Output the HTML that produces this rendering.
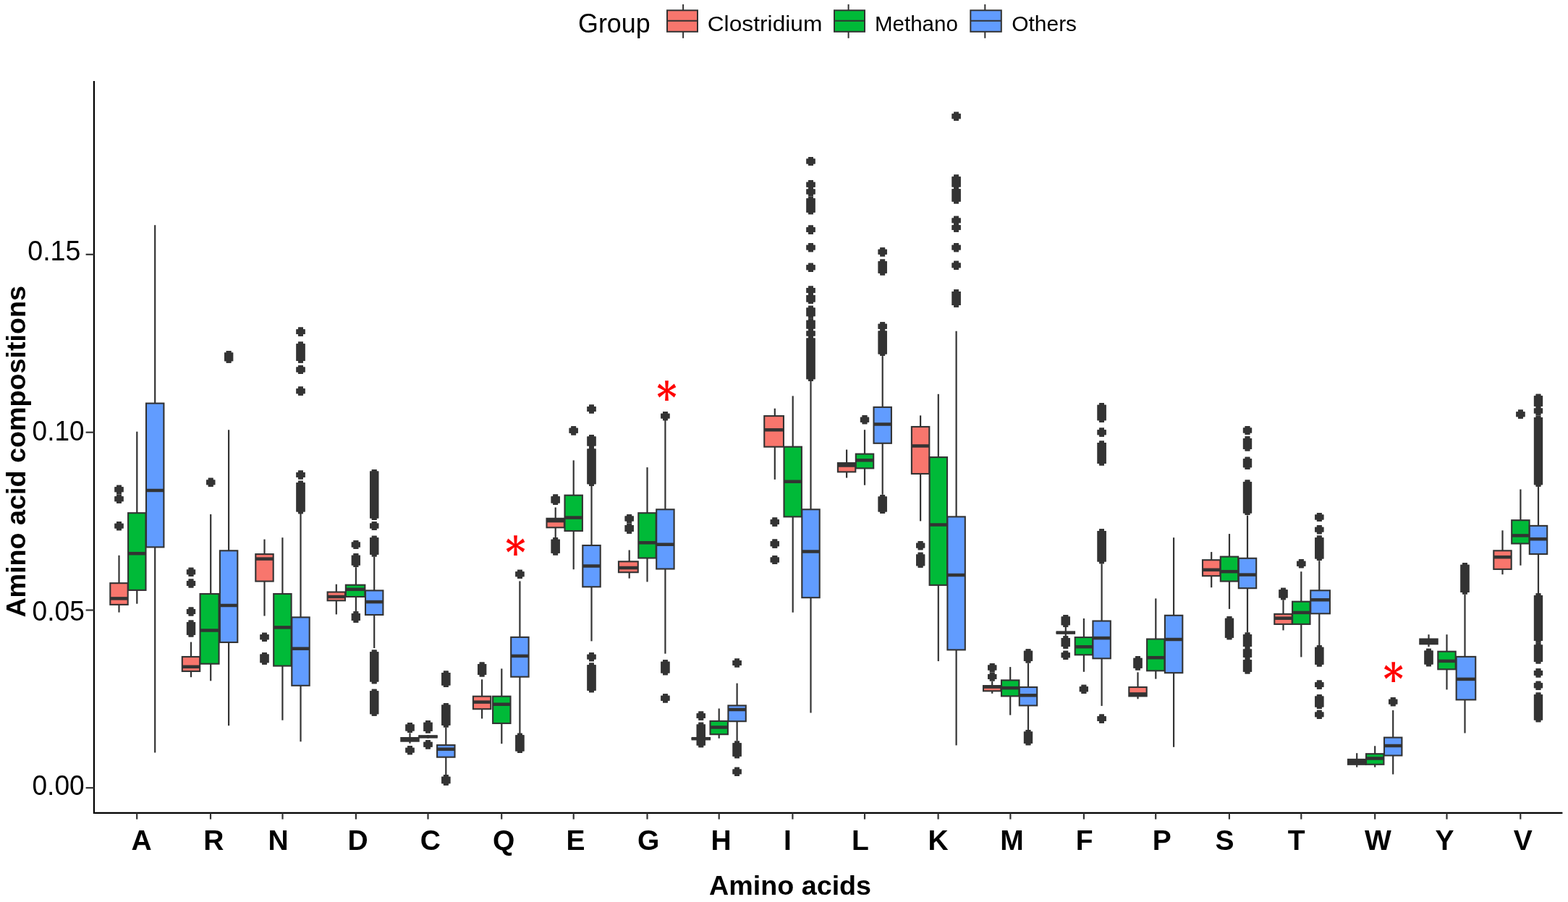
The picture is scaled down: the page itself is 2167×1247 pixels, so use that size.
<!DOCTYPE html>
<html><head><meta charset="utf-8"><title>Amino acid compositions</title>
<style>
html,body{margin:0;padding:0;background:#fff;}
svg{display:block;}
.w{stroke:#333333;stroke-width:2.2;}
.b{stroke:#333333;stroke-width:2.1;}
.m{stroke:#333333;stroke-width:4.5;}
.o{fill:#333333;}
.bl{stroke:#333333;stroke-width:12.4;stroke-linecap:round;}
.t{stroke:#333333;stroke-width:2.2;}
.ax{stroke:#000;stroke-width:2.2;fill:none;}
.xl{font-family:"Liberation Sans",Arial,sans-serif;font-weight:bold;font-size:39px;text-anchor:middle;fill:#000;}
.yl{font-family:"Liberation Sans",Arial,sans-serif;font-size:38.8px;text-anchor:end;fill:#000;}
.ttl{font-family:"Liberation Sans",Arial,sans-serif;font-weight:bold;font-size:37.7px;fill:#000;}
.lg{font-family:"Liberation Sans",Arial,sans-serif;font-size:29.8px;fill:#000;}
.ast{font-family:"DejaVu Serif",serif;font-weight:bold;font-size:60.4px;text-anchor:middle;fill:#FF0000;}
.lk{stroke:#333333;stroke-width:2;}
.lb{stroke:#333333;stroke-width:2;}
</style></head>
<body>
<svg width="2167" height="1247" viewBox="0 0 2167 1247">
<rect width="2167" height="1247" fill="#fff"/>
<g id="legend">
<text x="799" y="45" class="lg" style="font-size:37px" textLength="99.7" lengthAdjust="spacingAndGlyphs">Group</text>
<line x1="944.1" y1="6" x2="944.1" y2="52.8" class="lk"/><rect x="922" y="14.3" width="42" height="29.5" fill="#F8766D" class="lb"/><line x1="922" y1="28.8" x2="964" y2="28.8" class="lk"/><line x1="1172.6" y1="6" x2="1172.6" y2="52.8" class="lk"/><rect x="1153" y="14.3" width="42" height="29.5" fill="#00BA38" class="lb"/><line x1="1153" y1="28.8" x2="1195" y2="28.8" class="lk"/><line x1="1361.3" y1="6" x2="1361.3" y2="52.8" class="lk"/><rect x="1341.3" y="14.3" width="42.5" height="29.5" fill="#619CFF" class="lb"/><line x1="1341.3" y1="28.8" x2="1383.8" y2="28.8" class="lk"/>
<text x="977.7" y="42.7" class="lg" textLength="158.8" lengthAdjust="spacingAndGlyphs">Clostridium</text>
<text x="1209" y="42.6" class="lg" textLength="114.8" lengthAdjust="spacingAndGlyphs">Methano</text>
<text x="1398.2" y="42.5" class="lg" textLength="89.9" lengthAdjust="spacingAndGlyphs">Others</text>
</g>
<g id="plot">
<line x1="164.5" y1="767.8" x2="164.5" y2="806.2" class="w"/>
<line x1="164.5" y1="835.9" x2="164.5" y2="846.6" class="w"/>
<rect x="152.3" y="806.2" width="24.4" height="29.7" fill="#F8766D" class="b"/>
<line x1="152.3" y1="827.4" x2="176.7" y2="827.4" class="m"/>
<line x1="189.3" y1="596.7" x2="189.3" y2="709.2" class="w"/>
<line x1="189.3" y1="815.9" x2="189.3" y2="834.7" class="w"/>
<rect x="177.1" y="709.2" width="24.4" height="106.7" fill="#00BA38" class="b"/>
<line x1="177.1" y1="765.2" x2="201.5" y2="765.2" class="m"/>
<line x1="214.2" y1="311.2" x2="214.2" y2="557.6" class="w"/>
<line x1="214.2" y1="756.4" x2="214.2" y2="1040.5" class="w"/>
<rect x="202" y="557.6" width="24.4" height="198.8" fill="#619CFF" class="b"/>
<line x1="202" y1="678" x2="226.4" y2="678" class="m"/>
<line x1="264" y1="887.6" x2="264" y2="908" class="w"/>
<line x1="264" y1="928" x2="264" y2="936.2" class="w"/>
<rect x="251.8" y="908" width="24.4" height="20" fill="#F8766D" class="b"/>
<line x1="251.8" y1="921.8" x2="276.2" y2="921.8" class="m"/>
<line x1="291.2" y1="711" x2="291.2" y2="821" class="w"/>
<line x1="291.2" y1="917.7" x2="291.2" y2="941.3" class="w"/>
<rect x="276.55" y="821" width="26" height="96.7" fill="#00BA38" class="b"/>
<line x1="276.55" y1="871.5" x2="302.55" y2="871.5" class="m"/>
<line x1="316.1" y1="594.3" x2="316.1" y2="761.3" class="w"/>
<line x1="316.1" y1="888" x2="316.1" y2="1003.2" class="w"/>
<rect x="303.9" y="761.3" width="24.4" height="126.7" fill="#619CFF" class="b"/>
<line x1="303.9" y1="837" x2="328.3" y2="837" class="m"/>
<line x1="365.5" y1="745.6" x2="365.5" y2="766.1" class="w"/>
<line x1="365.5" y1="803.6" x2="365.5" y2="851.5" class="w"/>
<rect x="353.3" y="766.1" width="24.4" height="37.5" fill="#F8766D" class="b"/>
<line x1="353.3" y1="772.6" x2="377.7" y2="772.6" class="m"/>
<line x1="390.4" y1="743.2" x2="390.4" y2="821" class="w"/>
<line x1="390.4" y1="920.6" x2="390.4" y2="995.7" class="w"/>
<rect x="378.2" y="821" width="24.4" height="99.6" fill="#00BA38" class="b"/>
<line x1="378.2" y1="867.4" x2="402.6" y2="867.4" class="m"/>
<line x1="415.5" y1="710" x2="415.5" y2="853.4" class="w"/>
<line x1="415.5" y1="947.8" x2="415.5" y2="1025.3" class="w"/>
<rect x="403.3" y="853.4" width="24.4" height="94.4" fill="#619CFF" class="b"/>
<line x1="403.3" y1="896.7" x2="427.7" y2="896.7" class="m"/>
<line x1="464.8" y1="807.7" x2="464.8" y2="818.5" class="w"/>
<line x1="464.8" y1="830.3" x2="464.8" y2="849.4" class="w"/>
<rect x="452.6" y="818.5" width="24.4" height="11.8" fill="#F8766D" class="b"/>
<line x1="452.6" y1="825" x2="477" y2="825" class="m"/>
<line x1="491.9" y1="784.2" x2="491.9" y2="808.7" class="w"/>
<line x1="491.9" y1="825" x2="491.9" y2="845.2" class="w"/>
<rect x="477.85" y="808.7" width="26.5" height="16.3" fill="#00BA38" class="b"/>
<line x1="477.85" y1="814.8" x2="504.35" y2="814.8" class="m"/>
<line x1="517.2" y1="769.6" x2="517.2" y2="816.4" class="w"/>
<line x1="517.2" y1="850" x2="517.2" y2="896" class="w"/>
<rect x="505" y="816.4" width="24.4" height="33.6" fill="#619CFF" class="b"/>
<line x1="505" y1="832.1" x2="529.4" y2="832.1" class="m"/>
<line x1="566.5" y1="1013.3" x2="566.5" y2="1020.05" class="w"/>
<line x1="566.5" y1="1024.65" x2="566.5" y2="1027.7" class="w"/>
<rect x="554.3" y="1020.05" width="24.4" height="4.6" fill="#F8766D" class="b"/>
<line x1="554.3" y1="1022.3" x2="578.7" y2="1022.3" class="m"/>
<rect x="554.3" y="1022.3" width="24.4" height="2.35" fill="#333333"/>
<line x1="591.5" y1="1016.1" x2="591.5" y2="1018.4" class="w"/>
<line x1="591.5" y1="1018.4" x2="591.5" y2="1020.7" class="w"/>
<rect x="579.3" y="1018.4" width="24.4" height="0.01" fill="#00BA38" class="b"/>
<line x1="578.25" y1="1018.4" x2="604.75" y2="1018.4" class="m"/>
<line x1="616.3" y1="1005.6" x2="616.3" y2="1030.1" class="w"/>
<line x1="616.3" y1="1046.7" x2="616.3" y2="1071" class="w"/>
<rect x="604.1" y="1030.1" width="24.4" height="16.6" fill="#619CFF" class="b"/>
<line x1="604.1" y1="1035.7" x2="628.5" y2="1035.7" class="m"/>
<line x1="666.1" y1="939.3" x2="666.1" y2="962.7" class="w"/>
<line x1="666.1" y1="980.2" x2="666.1" y2="993.5" class="w"/>
<rect x="653.9" y="962.7" width="24.4" height="17.5" fill="#F8766D" class="b"/>
<line x1="653.9" y1="970.6" x2="678.3" y2="970.6" class="m"/>
<line x1="693.3" y1="924.4" x2="693.3" y2="962.7" class="w"/>
<line x1="693.3" y1="1000" x2="693.3" y2="1028.2" class="w"/>
<rect x="681.1" y="962.7" width="24.4" height="37.3" fill="#00BA38" class="b"/>
<line x1="681.1" y1="973.7" x2="705.5" y2="973.7" class="m"/>
<line x1="718.4" y1="803.4" x2="718.4" y2="880.9" class="w"/>
<line x1="718.4" y1="935.7" x2="718.4" y2="1014" class="w"/>
<rect x="706.2" y="880.9" width="24.4" height="54.8" fill="#619CFF" class="b"/>
<line x1="706.2" y1="906.9" x2="730.6" y2="906.9" class="m"/>
<line x1="767.7" y1="701.5" x2="767.7" y2="716.8" class="w"/>
<line x1="767.7" y1="729.3" x2="767.7" y2="743" class="w"/>
<rect x="755.5" y="716.8" width="24.4" height="12.5" fill="#F8766D" class="b"/>
<line x1="755.5" y1="720.1" x2="779.9" y2="720.1" class="m"/>
<rect x="755.5" y="716.8" width="24.4" height="3.3" fill="#333333"/>
<line x1="792.7" y1="636.4" x2="792.7" y2="684.7" class="w"/>
<line x1="792.7" y1="734" x2="792.7" y2="787.2" class="w"/>
<rect x="780.5" y="684.7" width="24.4" height="49.3" fill="#00BA38" class="b"/>
<line x1="780.5" y1="715.6" x2="804.9" y2="715.6" class="m"/>
<line x1="817.5" y1="671.8" x2="817.5" y2="754" class="w"/>
<line x1="817.5" y1="811.3" x2="817.5" y2="886.4" class="w"/>
<rect x="805.3" y="754" width="24.4" height="57.3" fill="#619CFF" class="b"/>
<line x1="805.3" y1="782.5" x2="829.7" y2="782.5" class="m"/>
<line x1="869.7" y1="760.5" x2="869.7" y2="776.3" class="w"/>
<line x1="869.7" y1="791.2" x2="869.7" y2="799.6" class="w"/>
<rect x="854.95" y="776.3" width="26.8" height="14.9" fill="#F8766D" class="b"/>
<line x1="854.95" y1="785" x2="881.75" y2="785" class="m"/>
<line x1="894.5" y1="646.1" x2="894.5" y2="709.2" class="w"/>
<line x1="894.5" y1="771.5" x2="894.5" y2="804.4" class="w"/>
<rect x="882.3" y="709.2" width="24.4" height="62.3" fill="#00BA38" class="b"/>
<line x1="882.3" y1="750.3" x2="906.7" y2="750.3" class="m"/>
<line x1="919.4" y1="580.4" x2="919.4" y2="704.3" class="w"/>
<line x1="919.4" y1="786.5" x2="919.4" y2="903.7" class="w"/>
<rect x="907.2" y="704.3" width="24.4" height="82.2" fill="#619CFF" class="b"/>
<line x1="907.2" y1="752.7" x2="931.6" y2="752.7" class="m"/>
<line x1="968.8" y1="1021.2" x2="968.8" y2="1021.2" class="w"/>
<line x1="968.8" y1="1021.2" x2="968.8" y2="1021.2" class="w"/>
<rect x="956.6" y="1021.2" width="24.4" height="0.01" fill="#F8766D" class="b"/>
<line x1="955.55" y1="1021.2" x2="982.05" y2="1021.2" class="m"/>
<line x1="993.7" y1="979.5" x2="993.7" y2="996.9" class="w"/>
<line x1="993.7" y1="1015.2" x2="993.7" y2="1020.8" class="w"/>
<rect x="981.5" y="996.9" width="24.4" height="18.3" fill="#00BA38" class="b"/>
<line x1="981.5" y1="1005.5" x2="1005.9" y2="1005.5" class="m"/>
<line x1="1018.6" y1="944.6" x2="1018.6" y2="975.4" class="w"/>
<line x1="1018.6" y1="997.2" x2="1018.6" y2="1024.4" class="w"/>
<rect x="1006.4" y="975.4" width="24.4" height="21.8" fill="#619CFF" class="b"/>
<line x1="1006.4" y1="981" x2="1030.8" y2="981" class="m"/>
<line x1="1070.8" y1="564.7" x2="1070.8" y2="575.1" class="w"/>
<line x1="1070.8" y1="617.7" x2="1070.8" y2="662.9" class="w"/>
<rect x="1056.25" y="575.1" width="26.7" height="42.6" fill="#F8766D" class="b"/>
<line x1="1056.25" y1="594.3" x2="1082.95" y2="594.3" class="m"/>
<line x1="1095.7" y1="547.4" x2="1095.7" y2="617.7" class="w"/>
<line x1="1095.7" y1="714.4" x2="1095.7" y2="846.7" class="w"/>
<rect x="1083.5" y="617.7" width="24.4" height="96.7" fill="#00BA38" class="b"/>
<line x1="1083.5" y1="665.8" x2="1107.9" y2="665.8" class="m"/>
<line x1="1120.5" y1="526.2" x2="1120.5" y2="704.3" class="w"/>
<line x1="1120.5" y1="826.2" x2="1120.5" y2="985.5" class="w"/>
<rect x="1108.3" y="704.3" width="24.4" height="121.9" fill="#619CFF" class="b"/>
<line x1="1108.3" y1="762.5" x2="1132.7" y2="762.5" class="m"/>
<line x1="1170.1" y1="621.6" x2="1170.1" y2="640.1" class="w"/>
<line x1="1170.1" y1="652.4" x2="1170.1" y2="660.6" class="w"/>
<rect x="1157.9" y="640.1" width="24.4" height="12.3" fill="#F8766D" class="b"/>
<line x1="1157.9" y1="643.5" x2="1182.3" y2="643.5" class="m"/>
<rect x="1157.9" y="640.1" width="24.4" height="3.4" fill="#333333"/>
<line x1="1195" y1="594.2" x2="1195" y2="627.6" class="w"/>
<line x1="1195" y1="647.4" x2="1195" y2="670.7" class="w"/>
<rect x="1182.8" y="627.6" width="24.4" height="19.8" fill="#00BA38" class="b"/>
<line x1="1182.8" y1="636.3" x2="1207.2" y2="636.3" class="m"/>
<line x1="1219.7" y1="492.1" x2="1219.7" y2="562.9" class="w"/>
<line x1="1219.7" y1="612.8" x2="1219.7" y2="683.8" class="w"/>
<rect x="1207.5" y="562.9" width="24.4" height="49.9" fill="#619CFF" class="b"/>
<line x1="1207.5" y1="586.5" x2="1231.9" y2="586.5" class="m"/>
<line x1="1272.1" y1="574.4" x2="1272.1" y2="590" class="w"/>
<line x1="1272.1" y1="655" x2="1272.1" y2="720.4" class="w"/>
<rect x="1259.9" y="590" width="24.4" height="65" fill="#F8766D" class="b"/>
<line x1="1259.9" y1="616.5" x2="1284.3" y2="616.5" class="m"/>
<line x1="1296.8" y1="544.8" x2="1296.8" y2="632.1" class="w"/>
<line x1="1296.8" y1="808.9" x2="1296.8" y2="914.1" class="w"/>
<rect x="1284.6" y="632.1" width="24.4" height="176.8" fill="#00BA38" class="b"/>
<line x1="1284.6" y1="725.5" x2="1309" y2="725.5" class="m"/>
<line x1="1321.6" y1="457.7" x2="1321.6" y2="714.4" class="w"/>
<line x1="1321.6" y1="898.4" x2="1321.6" y2="1030.4" class="w"/>
<rect x="1309.4" y="714.4" width="24.4" height="184" fill="#619CFF" class="b"/>
<line x1="1309.4" y1="795" x2="1333.8" y2="795" class="m"/>
<line x1="1371.2" y1="942" x2="1371.2" y2="948.1" class="w"/>
<line x1="1371.2" y1="955.3" x2="1371.2" y2="958.8" class="w"/>
<rect x="1359" y="948.1" width="24.4" height="7.2" fill="#F8766D" class="b"/>
<line x1="1359" y1="949.6" x2="1383.4" y2="949.6" class="m"/>
<line x1="1396.2" y1="922.1" x2="1396.2" y2="940.4" class="w"/>
<line x1="1396.2" y1="962.4" x2="1396.2" y2="988.6" class="w"/>
<rect x="1384" y="940.4" width="24.4" height="22" fill="#00BA38" class="b"/>
<line x1="1384" y1="951.1" x2="1408.4" y2="951.1" class="m"/>
<line x1="1421" y1="916.7" x2="1421" y2="950" class="w"/>
<line x1="1421" y1="975.4" x2="1421" y2="1009.1" class="w"/>
<rect x="1408.8" y="950" width="24.4" height="25.4" fill="#619CFF" class="b"/>
<line x1="1408.8" y1="961.3" x2="1433.2" y2="961.3" class="m"/>
<line x1="1472.8" y1="867" x2="1472.8" y2="874.6" class="w"/>
<line x1="1472.8" y1="874.6" x2="1472.8" y2="879" class="w"/>
<rect x="1460.6" y="874.6" width="24.4" height="0.01" fill="#F8766D" class="b"/>
<line x1="1459.55" y1="874.6" x2="1486.05" y2="874.6" class="m"/>
<line x1="1497.9" y1="855" x2="1497.9" y2="881.1" class="w"/>
<line x1="1497.9" y1="905.3" x2="1497.9" y2="928.8" class="w"/>
<rect x="1485.7" y="881.1" width="24.4" height="24.2" fill="#00BA38" class="b"/>
<line x1="1485.7" y1="894.2" x2="1510.1" y2="894.2" class="m"/>
<line x1="1522.6" y1="779.3" x2="1522.6" y2="858.5" class="w"/>
<line x1="1522.6" y1="910.3" x2="1522.6" y2="975.9" class="w"/>
<rect x="1510.4" y="858.5" width="24.4" height="51.8" fill="#619CFF" class="b"/>
<line x1="1510.4" y1="882.1" x2="1534.8" y2="882.1" class="m"/>
<line x1="1572.5" y1="929.4" x2="1572.5" y2="950" class="w"/>
<line x1="1572.5" y1="962.4" x2="1572.5" y2="966.3" class="w"/>
<rect x="1560.3" y="950" width="24.4" height="12.4" fill="#F8766D" class="b"/>
<line x1="1560.3" y1="959.4" x2="1584.7" y2="959.4" class="m"/>
<rect x="1560.3" y="959.4" width="24.4" height="3" fill="#333333"/>
<line x1="1597.3" y1="827.4" x2="1597.3" y2="883.5" class="w"/>
<line x1="1597.3" y1="927.3" x2="1597.3" y2="938.6" class="w"/>
<rect x="1585.1" y="883.5" width="24.4" height="43.8" fill="#00BA38" class="b"/>
<line x1="1585.1" y1="909.2" x2="1609.5" y2="909.2" class="m"/>
<line x1="1622.1" y1="743.2" x2="1622.1" y2="850.8" class="w"/>
<line x1="1622.1" y1="930.2" x2="1622.1" y2="1032.8" class="w"/>
<rect x="1609.9" y="850.8" width="24.4" height="79.4" fill="#619CFF" class="b"/>
<line x1="1609.9" y1="884" x2="1634.3" y2="884" class="m"/>
<line x1="1674.2" y1="763.1" x2="1674.2" y2="774.2" class="w"/>
<line x1="1674.2" y1="796.2" x2="1674.2" y2="812.2" class="w"/>
<rect x="1662" y="774.2" width="24.4" height="22" fill="#F8766D" class="b"/>
<line x1="1662" y1="787.8" x2="1686.4" y2="787.8" class="m"/>
<line x1="1699" y1="738.1" x2="1699" y2="769.6" class="w"/>
<line x1="1699" y1="803.6" x2="1699" y2="841.9" class="w"/>
<rect x="1686.8" y="769.6" width="24.4" height="34" fill="#00BA38" class="b"/>
<line x1="1686.8" y1="790.2" x2="1711.2" y2="790.2" class="m"/>
<line x1="1724" y1="712.5" x2="1724" y2="771.8" class="w"/>
<line x1="1724" y1="813.2" x2="1724" y2="874.4" class="w"/>
<rect x="1711.8" y="771.8" width="24.4" height="41.4" fill="#619CFF" class="b"/>
<line x1="1711.8" y1="794.6" x2="1736.2" y2="794.6" class="m"/>
<line x1="1773.5" y1="829.3" x2="1773.5" y2="848.9" class="w"/>
<line x1="1773.5" y1="862.9" x2="1773.5" y2="871.4" class="w"/>
<rect x="1761.3" y="848.9" width="24.4" height="14" fill="#F8766D" class="b"/>
<line x1="1761.3" y1="854.7" x2="1785.7" y2="854.7" class="m"/>
<line x1="1798.3" y1="790.2" x2="1798.3" y2="831.7" class="w"/>
<line x1="1798.3" y1="862.9" x2="1798.3" y2="908.4" class="w"/>
<rect x="1786.1" y="831.7" width="24.4" height="31.2" fill="#00BA38" class="b"/>
<line x1="1786.1" y1="846.9" x2="1810.5" y2="846.9" class="m"/>
<line x1="1823.3" y1="775.2" x2="1823.3" y2="816.3" class="w"/>
<line x1="1823.3" y1="848.3" x2="1823.3" y2="892" class="w"/>
<rect x="1811.25" y="816.3" width="26.7" height="32" fill="#619CFF" class="b"/>
<line x1="1811.25" y1="829.3" x2="1837.95" y2="829.3" class="m"/>
<line x1="1875.2" y1="1041.2" x2="1875.2" y2="1049.9" class="w"/>
<line x1="1875.2" y1="1056.8" x2="1875.2" y2="1060.6" class="w"/>
<rect x="1863" y="1049.9" width="24.4" height="6.9" fill="#F8766D" class="b"/>
<line x1="1863" y1="1053.35" x2="1887.4" y2="1053.35" class="m"/>
<rect x="1863" y="1049.9" width="24.4" height="3.45" fill="#333333"/>
<rect x="1863" y="1053.35" width="24.4" height="3.45" fill="#333333"/>
<line x1="1900.2" y1="1031.3" x2="1900.2" y2="1042.2" class="w"/>
<line x1="1900.2" y1="1056.8" x2="1900.2" y2="1060.6" class="w"/>
<rect x="1888" y="1042.2" width="24.4" height="14.6" fill="#00BA38" class="b"/>
<line x1="1888" y1="1048.5" x2="1912.4" y2="1048.5" class="m"/>
<line x1="1925.2" y1="981.9" x2="1925.2" y2="1019.6" class="w"/>
<line x1="1925.2" y1="1044.5" x2="1925.2" y2="1070.5" class="w"/>
<rect x="1913" y="1019.6" width="24.4" height="24.9" fill="#619CFF" class="b"/>
<line x1="1913" y1="1031" x2="1937.4" y2="1031" class="m"/>
<line x1="1974.5" y1="877.2" x2="1974.5" y2="883.5" class="w"/>
<line x1="1974.5" y1="890.3" x2="1974.5" y2="894.2" class="w"/>
<rect x="1962.3" y="883.5" width="24.4" height="6.8" fill="#F8766D" class="b"/>
<line x1="1962.3" y1="887" x2="1986.7" y2="887" class="m"/>
<rect x="1962.3" y="883.5" width="24.4" height="3.5" fill="#333333"/>
<rect x="1962.3" y="887" width="24.4" height="3.3" fill="#333333"/>
<line x1="1999.5" y1="877.2" x2="1999.5" y2="900.7" class="w"/>
<line x1="1999.5" y1="925.3" x2="1999.5" y2="953.4" class="w"/>
<rect x="1987.3" y="900.7" width="24.4" height="24.6" fill="#00BA38" class="b"/>
<line x1="1987.3" y1="913.9" x2="2011.7" y2="913.9" class="m"/>
<line x1="2024.5" y1="821.7" x2="2024.5" y2="907.9" class="w"/>
<line x1="2024.5" y1="967.4" x2="2024.5" y2="1013.5" class="w"/>
<rect x="2012.65" y="907.9" width="26.6" height="59.5" fill="#619CFF" class="b"/>
<line x1="2012.65" y1="938.9" x2="2039.25" y2="938.9" class="m"/>
<line x1="2076.5" y1="733.3" x2="2076.5" y2="761.3" class="w"/>
<line x1="2076.5" y1="786.9" x2="2076.5" y2="794.2" class="w"/>
<rect x="2064.3" y="761.3" width="24.4" height="25.6" fill="#F8766D" class="b"/>
<line x1="2064.3" y1="770.2" x2="2088.7" y2="770.2" class="m"/>
<line x1="2101.4" y1="676.5" x2="2101.4" y2="719.2" class="w"/>
<line x1="2101.4" y1="751.5" x2="2101.4" y2="781.7" class="w"/>
<rect x="2089.2" y="719.2" width="24.4" height="32.3" fill="#00BA38" class="b"/>
<line x1="2089.2" y1="740.4" x2="2113.6" y2="740.4" class="m"/>
<line x1="2126" y1="672.9" x2="2126" y2="726.9" class="w"/>
<line x1="2126" y1="766" x2="2126" y2="821.4" class="w"/>
<rect x="2113.8" y="726.9" width="24.4" height="39.1" fill="#619CFF" class="b"/>
<line x1="2113.8" y1="745.2" x2="2138.2" y2="745.2" class="m"/>
<path class="o" d="M158.4 673.35H170.6V680.25H158.4ZM161.1 670.7H167.9V682.9H161.1ZM158.4 686.25H170.6V693.15H158.4ZM161.1 683.6H167.9V695.8H161.1ZM158.4 723.65H170.6V730.55H158.4ZM161.1 721H167.9V733.2H161.1ZM257.9 787.45H270.1V794.35H257.9ZM260.6 784.8H267.4V797H260.6ZM257.9 803.05H270.1V809.95H257.9ZM260.6 800.4H267.4V812.6H260.6ZM257.9 842.05H270.1V848.95H257.9ZM260.6 839.4H267.4V851.6H260.6ZM257.9 860.05H270.1V877.85H257.9ZM260.6 857.4H267.4V880.5H260.6ZM285.1 663.45H297.3V670.35H285.1ZM287.8 660.8H294.6V673H287.8ZM310 487.55H322.2V499.15H310ZM312.7 484.9H319.5V501.8H312.7ZM359.4 877.35H371.6V884.25H359.4ZM362.1 874.7H368.9V886.9H362.1ZM359.4 904.55H371.6V916.15H359.4ZM362.1 901.9H368.9V918.8H362.1ZM409.4 455.15H421.6V462.05H409.4ZM412.1 452.5H418.9V464.7H412.1ZM409.4 507.55H421.6V514.45H409.4ZM412.1 504.9H418.9V517.1H412.1ZM409.4 537.25H421.6V544.15H409.4ZM412.1 534.6H418.9V546.8H412.1ZM409.4 653.05H421.6V659.95H409.4ZM412.1 650.4H418.9V662.6H412.1ZM409.4 475.25H421.6V499.05H409.4ZM412.1 472.6H418.9V501.7H412.1ZM409.4 667.35H421.6V707.55H409.4ZM412.1 664.7H418.9V710.2H412.1ZM485.8 749.55H498V756.45H485.8ZM488.5 746.9H495.3V759.1H488.5ZM485.8 767.75H498V781.45H485.8ZM488.5 765.1H495.3V784.1H488.5ZM485.8 847.95H498V858.05H485.8ZM488.5 845.3H495.3V860.7H488.5ZM511.1 723.55H523.3V730.45H511.1ZM513.8 720.9H520.6V733.1H513.8ZM511.1 651.55H523.3V716.45H511.1ZM513.8 648.9H520.6V719.1H513.8ZM511.1 743.35H523.3V766.85H511.1ZM513.8 740.7H520.6V769.5H513.8ZM511.1 901.15H523.3V942.55H511.1ZM513.8 898.5H520.6V945.2H513.8ZM511.1 955.35H523.3V987.15H511.1ZM513.8 952.7H520.6V989.8H513.8ZM560.4 1001.55H572.6V1008.45H560.4ZM563.1 998.9H569.9V1011.1H563.1ZM560.4 1003.55H572.6V1010.45H560.4ZM563.1 1000.9H569.9V1013.1H563.1ZM560.4 1033.65H572.6V1040.55H560.4ZM563.1 1031H569.9V1043.2H563.1ZM585.4 1025.85H597.6V1032.75H585.4ZM588.1 1023.2H594.9V1035.4H588.1ZM585.4 998.75H597.6V1010.95H585.4ZM588.1 996.1H594.9V1013.6H588.1ZM610.2 930.05H622.4V947.45H610.2ZM612.9 927.4H619.7V950.1H612.9ZM610.2 974.55H622.4V1002.85H610.2ZM612.9 971.9H619.7V1005.5H612.9ZM610.2 1073.65H622.4V1083.15H610.2ZM612.9 1071H619.7V1085.8H612.9ZM660 918.05H672.2V932.95H660ZM662.7 915.4H669.5V935.6H662.7ZM712.3 790.35H724.5V797.25H712.3ZM715 787.7H721.8V799.9H715ZM712.3 1016.35H724.5V1038.45H712.3ZM715 1013.7H721.8V1041.1H715ZM761.6 686.25H773.8V695.45H761.6ZM764.3 683.6H771.1V698.1H764.3ZM761.6 745.75H773.8V764.85H761.6ZM764.3 743.1H771.1V767.5H764.3ZM786.6 591.85H798.8V598.75H786.6ZM789.3 589.2H796.1V601.4H789.3ZM811.4 562.05H823.6V568.95H811.4ZM814.1 559.4H820.9V571.6H814.1ZM811.4 904.65H823.6V911.55H811.4ZM814.1 902H820.9V914.2H814.1ZM811.4 603.55H823.6V616.45H811.4ZM814.1 600.9H820.9V619.1H814.1ZM811.4 620.55H823.6V669.25H811.4ZM814.1 617.9H820.9V671.9H814.1ZM811.4 919.25H823.6V954.65H811.4ZM814.1 916.6H820.9V957.3H814.1ZM863.6 713.55H875.8V720.45H863.6ZM866.3 710.9H873.1V723.1H866.3ZM863.6 726.05H875.8V735.05H863.6ZM866.3 723.4H873.1V737.7H866.3ZM913.3 571.65H925.5V578.55H913.3ZM916 569H922.8V581.2H916ZM913.3 961.85H925.5V968.75H913.3ZM916 959.2H922.8V971.4H916ZM913.3 914.85H925.5V930.55H913.3ZM916 912.2H922.8V933.2H916ZM962.7 986.15H974.9V993.05H962.7ZM965.4 983.5H972.2V995.7H965.4ZM962.7 1001.45H974.9V1030.55H962.7ZM965.4 998.8H972.2V1033.2H965.4ZM1012.5 913.05H1024.7V919.95H1012.5ZM1015.2 910.4H1022V922.6H1015.2ZM1012.5 1063.45H1024.7V1070.35H1012.5ZM1015.2 1060.8H1022V1073H1015.2ZM1012.5 1027.15H1024.7V1045.65H1012.5ZM1015.2 1024.5H1022V1048.3H1015.2ZM1064.7 718.15H1076.9V725.05H1064.7ZM1067.4 715.5H1074.2V727.7H1067.4ZM1064.7 748.25H1076.9V755.15H1064.7ZM1067.4 745.6H1074.2V757.8H1067.4ZM1064.7 770.55H1076.9V777.45H1064.7ZM1067.4 767.9H1074.2V780.1H1067.4ZM1114.4 219.55H1126.6V226.45H1114.4ZM1117.1 216.9H1123.9V229.1H1117.1ZM1114.4 314.15H1126.6V321.05H1114.4ZM1117.1 311.5H1123.9V323.7H1117.1ZM1114.4 338.65H1126.6V345.55H1114.4ZM1117.1 336H1123.9V348.2H1117.1ZM1114.4 366.35H1126.6V373.25H1114.4ZM1117.1 363.7H1123.9V375.9H1117.1ZM1114.4 251.75H1126.6V258.65H1114.4ZM1117.1 249.1H1123.9V261.3H1117.1ZM1114.4 261.55H1126.6V268.45H1114.4ZM1117.1 258.9H1123.9V271.1H1117.1ZM1114.4 398.05H1126.6V404.95H1114.4ZM1117.1 395.4H1123.9V407.6H1117.1ZM1114.4 457.55H1126.6V464.45H1114.4ZM1117.1 454.9H1123.9V467.1H1117.1ZM1114.4 274.25H1126.6V293.65H1114.4ZM1117.1 271.6H1123.9V296.3H1117.1ZM1114.4 407.95H1126.6V417.45H1114.4ZM1117.1 405.3H1123.9V420.1H1117.1ZM1114.4 425.45H1126.6V437.15H1114.4ZM1117.1 422.8H1123.9V439.8H1117.1ZM1114.4 442.85H1126.6V454.55H1114.4ZM1117.1 440.2H1123.9V457.2H1117.1ZM1114.4 467.55H1126.6V524.25H1114.4ZM1117.1 464.9H1123.9V526.9H1117.1ZM1188.9 576.75H1201.1V583.65H1188.9ZM1191.6 574.1H1198.4V586.3H1191.6ZM1213.6 344.85H1225.8V351.75H1213.6ZM1216.3 342.2H1223.1V354.4H1216.3ZM1213.6 447.85H1225.8V454.75H1213.6ZM1216.3 445.2H1223.1V457.4H1216.3ZM1213.6 361.25H1225.8V377.75H1213.6ZM1216.3 358.6H1223.1V380.4H1216.3ZM1213.6 457.45H1225.8V489.45H1213.6ZM1216.3 454.8H1223.1V492.1H1216.3ZM1213.6 686.55H1225.8V707.45H1213.6ZM1216.3 683.9H1223.1V710.1H1216.3ZM1266 750.65H1278.2V757.55H1266ZM1268.7 748H1275.5V760.2H1268.7ZM1266 766.45H1278.2V782.15H1266ZM1268.7 763.8H1275.5V784.8H1268.7ZM1315.5 157.35H1327.7V164.25H1315.5ZM1318.2 154.7H1325V166.9H1318.2ZM1315.5 338.65H1327.7V345.55H1315.5ZM1318.2 336H1325V348.2H1318.2ZM1315.5 363.45H1327.7V370.35H1315.5ZM1318.2 360.8H1325V373H1318.2ZM1315.5 301.45H1327.7V308.35H1315.5ZM1318.2 298.8H1325V311H1318.2ZM1315.5 311.15H1327.7V318.05H1315.5ZM1318.2 308.5H1325V320.7H1318.2ZM1315.5 244.15H1327.7V258.55H1315.5ZM1318.2 241.5H1325V261.2H1318.2ZM1315.5 261.35H1327.7V278.75H1315.5ZM1318.2 258.7H1325V281.4H1318.2ZM1315.5 402.95H1327.7V422.05H1315.5ZM1318.2 400.3H1325V424.7H1318.2ZM1365.1 919.55H1377.3V926.45H1365.1ZM1367.8 916.9H1374.6V929.1H1367.8ZM1365.1 932.05H1377.3V938.95H1365.1ZM1367.8 929.4H1374.6V941.6H1367.8ZM1414.9 899.85H1427.1V913.95H1414.9ZM1417.6 897.2H1424.4V916.6H1417.6ZM1414.9 1011.55H1427.1V1027.65H1414.9ZM1417.6 1008.9H1424.4V1030.3H1417.6ZM1466.7 902.35H1478.9V909.25H1466.7ZM1469.4 899.7H1476.2V911.9H1469.4ZM1466.7 852.55H1478.9V864.35H1466.7ZM1469.4 849.9H1476.2V867H1469.4ZM1466.7 881.95H1478.9V894.05H1466.7ZM1469.4 879.3H1476.2V896.7H1469.4ZM1491.8 949.35H1504V956.25H1491.8ZM1494.5 946.7H1501.3V958.9H1494.5ZM1516.5 594.25H1528.7V601.15H1516.5ZM1519.2 591.6H1526V603.8H1519.2ZM1516.5 990.15H1528.7V997.05H1516.5ZM1519.2 987.5H1526V999.7H1519.2ZM1516.5 559.75H1528.7V581.35H1516.5ZM1519.2 557.1H1526V584H1519.2ZM1516.5 612.05H1528.7V640.95H1516.5ZM1519.2 609.4H1526V643.6H1519.2ZM1516.5 733.95H1528.7V776.55H1516.5ZM1519.2 731.3H1526V779.2H1519.2ZM1566.4 909.65H1578.6V923.75H1566.4ZM1569.1 907H1575.9V926.4H1569.1ZM1692.9 854.65H1705.1V881.65H1692.9ZM1695.6 852H1702.4V884.3H1695.6ZM1717.9 591.55H1730.1V598.45H1717.9ZM1720.6 588.9H1727.4V601.1H1720.6ZM1717.9 605.95H1730.1V620.95H1717.9ZM1720.6 603.3H1727.4V623.6H1720.6ZM1717.9 634.35H1730.1V646.25H1717.9ZM1720.6 631.7H1727.4V648.9H1720.6ZM1717.9 666.15H1730.1V709.45H1717.9ZM1720.6 663.5H1727.4V712.1H1720.6ZM1717.9 877.05H1730.1V893.95H1717.9ZM1720.6 874.4H1727.4V896.6H1720.6ZM1717.9 897.55H1730.1V908.65H1717.9ZM1720.6 894.9H1727.4V911.3H1720.6ZM1717.9 912.25H1730.1V928.85H1717.9ZM1720.6 909.6H1727.4V931.5H1720.6ZM1767.4 815.35H1779.6V826.55H1767.4ZM1770.1 812.7H1776.9V829.2H1770.1ZM1792.2 775.75H1804.4V782.65H1792.2ZM1794.9 773.1H1801.7V785.3H1794.9ZM1817.2 711.55H1829.4V718.45H1817.2ZM1819.9 708.9H1826.7V721.1H1819.9ZM1817.2 728.65H1829.4V735.55H1817.2ZM1819.9 726H1826.7V738.2H1819.9ZM1817.2 943.15H1829.4V950.05H1817.2ZM1819.9 940.5H1826.7V952.7H1819.9ZM1817.2 984.45H1829.4V991.35H1817.2ZM1819.9 981.8H1826.7V994H1819.9ZM1817.2 743.25H1829.4V772.45H1817.2ZM1819.9 740.6H1826.7V775.1H1819.9ZM1817.2 894.75H1829.4V918.75H1817.2ZM1819.9 892.1H1826.7V921.4H1819.9ZM1817.2 962.55H1829.4V977.45H1817.2ZM1819.9 959.9H1826.7V980.1H1819.9ZM1919.1 966.65H1931.3V973.55H1919.1ZM1921.8 964H1928.6V976.2H1921.8ZM1968.4 899.45H1980.6V918.55H1968.4ZM1971.1 896.8H1977.9V921.2H1971.1ZM2018.4 780.75H2030.6V818.95H2018.4ZM2021.1 778.1H2027.9V821.6H2021.1ZM2095.3 569.25H2107.5V576.15H2095.3ZM2098 566.6H2104.8V578.8H2098ZM2119.9 564.55H2132.1V571.45H2119.9ZM2122.6 561.9H2129.4V574.1H2122.6ZM2119.9 926.95H2132.1V933.85H2119.9ZM2122.6 924.3H2129.4V936.5H2122.6ZM2119.9 944.35H2132.1V951.25H2119.9ZM2122.6 941.7H2129.4V953.9H2122.6ZM2119.9 547.35H2132.1V561.85H2119.9ZM2122.6 544.7H2129.4V564.5H2122.6ZM2119.9 577.05H2132.1V670.15H2119.9ZM2122.6 574.4H2129.4V672.8H2122.6ZM2119.9 822.95H2132.1V886.05H2119.9ZM2122.6 820.3H2129.4V888.7H2122.6ZM2119.9 891.55H2132.1V914.95H2119.9ZM2122.6 888.9H2129.4V917.6H2122.6ZM2119.9 960.15H2132.1V995.55H2119.9ZM2122.6 957.5H2129.4V998.2H2122.6Z"/>
<path class="o" d="M158.4 673.35H170.6V680.25H158.4ZM161.1 670.7H167.9V682.9H161.1ZM158.4 686.25H170.6V693.15H158.4ZM161.1 683.6H167.9V695.8H161.1ZM158.4 723.65H170.6V730.55H158.4ZM161.1 721H167.9V733.2H161.1ZM257.9 787.45H270.1V794.35H257.9ZM260.6 784.8H267.4V797H260.6ZM257.9 803.05H270.1V809.95H257.9ZM260.6 800.4H267.4V812.6H260.6ZM257.9 842.05H270.1V848.95H257.9ZM260.6 839.4H267.4V851.6H260.6ZM257.9 860.05H270.1V877.85H257.9ZM260.6 857.4H267.4V880.5H260.6ZM285.1 663.45H297.3V670.35H285.1ZM287.8 660.8H294.6V673H287.8ZM310 487.55H322.2V499.15H310ZM312.7 484.9H319.5V501.8H312.7ZM359.4 877.35H371.6V884.25H359.4ZM362.1 874.7H368.9V886.9H362.1ZM359.4 904.55H371.6V916.15H359.4ZM362.1 901.9H368.9V918.8H362.1ZM409.4 455.15H421.6V462.05H409.4ZM412.1 452.5H418.9V464.7H412.1ZM409.4 507.55H421.6V514.45H409.4ZM412.1 504.9H418.9V517.1H412.1ZM409.4 537.25H421.6V544.15H409.4ZM412.1 534.6H418.9V546.8H412.1ZM409.4 653.05H421.6V659.95H409.4ZM412.1 650.4H418.9V662.6H412.1ZM409.4 475.25H421.6V499.05H409.4ZM412.1 472.6H418.9V501.7H412.1ZM409.4 667.35H421.6V707.55H409.4ZM412.1 664.7H418.9V710.2H412.1ZM485.8 749.55H498V756.45H485.8ZM488.5 746.9H495.3V759.1H488.5ZM485.8 767.75H498V781.45H485.8ZM488.5 765.1H495.3V784.1H488.5ZM485.8 847.95H498V858.05H485.8ZM488.5 845.3H495.3V860.7H488.5ZM511.1 723.55H523.3V730.45H511.1ZM513.8 720.9H520.6V733.1H513.8ZM511.1 651.55H523.3V716.45H511.1ZM513.8 648.9H520.6V719.1H513.8ZM511.1 743.35H523.3V766.85H511.1ZM513.8 740.7H520.6V769.5H513.8ZM511.1 901.15H523.3V942.55H511.1ZM513.8 898.5H520.6V945.2H513.8ZM511.1 955.35H523.3V987.15H511.1ZM513.8 952.7H520.6V989.8H513.8ZM560.4 1001.55H572.6V1008.45H560.4ZM563.1 998.9H569.9V1011.1H563.1ZM560.4 1003.55H572.6V1010.45H560.4ZM563.1 1000.9H569.9V1013.1H563.1ZM560.4 1033.65H572.6V1040.55H560.4ZM563.1 1031H569.9V1043.2H563.1ZM585.4 1025.85H597.6V1032.75H585.4ZM588.1 1023.2H594.9V1035.4H588.1ZM585.4 998.75H597.6V1010.95H585.4ZM588.1 996.1H594.9V1013.6H588.1ZM610.2 930.05H622.4V947.45H610.2ZM612.9 927.4H619.7V950.1H612.9ZM610.2 974.55H622.4V1002.85H610.2ZM612.9 971.9H619.7V1005.5H612.9ZM610.2 1073.65H622.4V1083.15H610.2ZM612.9 1071H619.7V1085.8H612.9ZM660 918.05H672.2V932.95H660ZM662.7 915.4H669.5V935.6H662.7ZM712.3 790.35H724.5V797.25H712.3ZM715 787.7H721.8V799.9H715ZM712.3 1016.35H724.5V1038.45H712.3ZM715 1013.7H721.8V1041.1H715ZM761.6 686.25H773.8V695.45H761.6ZM764.3 683.6H771.1V698.1H764.3ZM761.6 745.75H773.8V764.85H761.6ZM764.3 743.1H771.1V767.5H764.3ZM786.6 591.85H798.8V598.75H786.6ZM789.3 589.2H796.1V601.4H789.3ZM811.4 562.05H823.6V568.95H811.4ZM814.1 559.4H820.9V571.6H814.1ZM811.4 904.65H823.6V911.55H811.4ZM814.1 902H820.9V914.2H814.1ZM811.4 603.55H823.6V616.45H811.4ZM814.1 600.9H820.9V619.1H814.1ZM811.4 620.55H823.6V669.25H811.4ZM814.1 617.9H820.9V671.9H814.1ZM811.4 919.25H823.6V954.65H811.4ZM814.1 916.6H820.9V957.3H814.1ZM863.6 713.55H875.8V720.45H863.6ZM866.3 710.9H873.1V723.1H866.3ZM863.6 726.05H875.8V735.05H863.6ZM866.3 723.4H873.1V737.7H866.3ZM913.3 571.65H925.5V578.55H913.3ZM916 569H922.8V581.2H916ZM913.3 961.85H925.5V968.75H913.3ZM916 959.2H922.8V971.4H916ZM913.3 914.85H925.5V930.55H913.3ZM916 912.2H922.8V933.2H916ZM962.7 986.15H974.9V993.05H962.7ZM965.4 983.5H972.2V995.7H965.4ZM962.7 1001.45H974.9V1030.55H962.7ZM965.4 998.8H972.2V1033.2H965.4ZM1012.5 913.05H1024.7V919.95H1012.5ZM1015.2 910.4H1022V922.6H1015.2ZM1012.5 1063.45H1024.7V1070.35H1012.5ZM1015.2 1060.8H1022V1073H1015.2ZM1012.5 1027.15H1024.7V1045.65H1012.5ZM1015.2 1024.5H1022V1048.3H1015.2ZM1064.7 718.15H1076.9V725.05H1064.7ZM1067.4 715.5H1074.2V727.7H1067.4ZM1064.7 748.25H1076.9V755.15H1064.7ZM1067.4 745.6H1074.2V757.8H1067.4ZM1064.7 770.55H1076.9V777.45H1064.7ZM1067.4 767.9H1074.2V780.1H1067.4ZM1114.4 219.55H1126.6V226.45H1114.4ZM1117.1 216.9H1123.9V229.1H1117.1ZM1114.4 314.15H1126.6V321.05H1114.4ZM1117.1 311.5H1123.9V323.7H1117.1ZM1114.4 338.65H1126.6V345.55H1114.4ZM1117.1 336H1123.9V348.2H1117.1ZM1114.4 366.35H1126.6V373.25H1114.4ZM1117.1 363.7H1123.9V375.9H1117.1ZM1114.4 251.75H1126.6V258.65H1114.4ZM1117.1 249.1H1123.9V261.3H1117.1ZM1114.4 261.55H1126.6V268.45H1114.4ZM1117.1 258.9H1123.9V271.1H1117.1ZM1114.4 398.05H1126.6V404.95H1114.4ZM1117.1 395.4H1123.9V407.6H1117.1ZM1114.4 457.55H1126.6V464.45H1114.4ZM1117.1 454.9H1123.9V467.1H1117.1ZM1114.4 274.25H1126.6V293.65H1114.4ZM1117.1 271.6H1123.9V296.3H1117.1ZM1114.4 407.95H1126.6V417.45H1114.4ZM1117.1 405.3H1123.9V420.1H1117.1ZM1114.4 425.45H1126.6V437.15H1114.4ZM1117.1 422.8H1123.9V439.8H1117.1ZM1114.4 442.85H1126.6V454.55H1114.4ZM1117.1 440.2H1123.9V457.2H1117.1ZM1114.4 467.55H1126.6V524.25H1114.4ZM1117.1 464.9H1123.9V526.9H1117.1ZM1188.9 576.75H1201.1V583.65H1188.9ZM1191.6 574.1H1198.4V586.3H1191.6ZM1213.6 344.85H1225.8V351.75H1213.6ZM1216.3 342.2H1223.1V354.4H1216.3ZM1213.6 447.85H1225.8V454.75H1213.6ZM1216.3 445.2H1223.1V457.4H1216.3ZM1213.6 361.25H1225.8V377.75H1213.6ZM1216.3 358.6H1223.1V380.4H1216.3ZM1213.6 457.45H1225.8V489.45H1213.6ZM1216.3 454.8H1223.1V492.1H1216.3ZM1213.6 686.55H1225.8V707.45H1213.6ZM1216.3 683.9H1223.1V710.1H1216.3ZM1266 750.65H1278.2V757.55H1266ZM1268.7 748H1275.5V760.2H1268.7ZM1266 766.45H1278.2V782.15H1266ZM1268.7 763.8H1275.5V784.8H1268.7ZM1315.5 157.35H1327.7V164.25H1315.5ZM1318.2 154.7H1325V166.9H1318.2ZM1315.5 338.65H1327.7V345.55H1315.5ZM1318.2 336H1325V348.2H1318.2ZM1315.5 363.45H1327.7V370.35H1315.5ZM1318.2 360.8H1325V373H1318.2ZM1315.5 301.45H1327.7V308.35H1315.5ZM1318.2 298.8H1325V311H1318.2ZM1315.5 311.15H1327.7V318.05H1315.5ZM1318.2 308.5H1325V320.7H1318.2ZM1315.5 244.15H1327.7V258.55H1315.5ZM1318.2 241.5H1325V261.2H1318.2ZM1315.5 261.35H1327.7V278.75H1315.5ZM1318.2 258.7H1325V281.4H1318.2ZM1315.5 402.95H1327.7V422.05H1315.5ZM1318.2 400.3H1325V424.7H1318.2ZM1365.1 919.55H1377.3V926.45H1365.1ZM1367.8 916.9H1374.6V929.1H1367.8ZM1365.1 932.05H1377.3V938.95H1365.1ZM1367.8 929.4H1374.6V941.6H1367.8ZM1414.9 899.85H1427.1V913.95H1414.9ZM1417.6 897.2H1424.4V916.6H1417.6ZM1414.9 1011.55H1427.1V1027.65H1414.9ZM1417.6 1008.9H1424.4V1030.3H1417.6ZM1466.7 902.35H1478.9V909.25H1466.7ZM1469.4 899.7H1476.2V911.9H1469.4ZM1466.7 852.55H1478.9V864.35H1466.7ZM1469.4 849.9H1476.2V867H1469.4ZM1466.7 881.95H1478.9V894.05H1466.7ZM1469.4 879.3H1476.2V896.7H1469.4ZM1491.8 949.35H1504V956.25H1491.8ZM1494.5 946.7H1501.3V958.9H1494.5ZM1516.5 594.25H1528.7V601.15H1516.5ZM1519.2 591.6H1526V603.8H1519.2ZM1516.5 990.15H1528.7V997.05H1516.5ZM1519.2 987.5H1526V999.7H1519.2ZM1516.5 559.75H1528.7V581.35H1516.5ZM1519.2 557.1H1526V584H1519.2ZM1516.5 612.05H1528.7V640.95H1516.5ZM1519.2 609.4H1526V643.6H1519.2ZM1516.5 733.95H1528.7V776.55H1516.5ZM1519.2 731.3H1526V779.2H1519.2ZM1566.4 909.65H1578.6V923.75H1566.4ZM1569.1 907H1575.9V926.4H1569.1ZM1692.9 854.65H1705.1V881.65H1692.9ZM1695.6 852H1702.4V884.3H1695.6ZM1717.9 591.55H1730.1V598.45H1717.9ZM1720.6 588.9H1727.4V601.1H1720.6ZM1717.9 605.95H1730.1V620.95H1717.9ZM1720.6 603.3H1727.4V623.6H1720.6ZM1717.9 634.35H1730.1V646.25H1717.9ZM1720.6 631.7H1727.4V648.9H1720.6ZM1717.9 666.15H1730.1V709.45H1717.9ZM1720.6 663.5H1727.4V712.1H1720.6ZM1717.9 877.05H1730.1V893.95H1717.9ZM1720.6 874.4H1727.4V896.6H1720.6ZM1717.9 897.55H1730.1V908.65H1717.9ZM1720.6 894.9H1727.4V911.3H1720.6ZM1717.9 912.25H1730.1V928.85H1717.9ZM1720.6 909.6H1727.4V931.5H1720.6ZM1767.4 815.35H1779.6V826.55H1767.4ZM1770.1 812.7H1776.9V829.2H1770.1ZM1792.2 775.75H1804.4V782.65H1792.2ZM1794.9 773.1H1801.7V785.3H1794.9ZM1817.2 711.55H1829.4V718.45H1817.2ZM1819.9 708.9H1826.7V721.1H1819.9ZM1817.2 728.65H1829.4V735.55H1817.2ZM1819.9 726H1826.7V738.2H1819.9ZM1817.2 943.15H1829.4V950.05H1817.2ZM1819.9 940.5H1826.7V952.7H1819.9ZM1817.2 984.45H1829.4V991.35H1817.2ZM1819.9 981.8H1826.7V994H1819.9ZM1817.2 743.25H1829.4V772.45H1817.2ZM1819.9 740.6H1826.7V775.1H1819.9ZM1817.2 894.75H1829.4V918.75H1817.2ZM1819.9 892.1H1826.7V921.4H1819.9ZM1817.2 962.55H1829.4V977.45H1817.2ZM1819.9 959.9H1826.7V980.1H1819.9ZM1919.1 966.65H1931.3V973.55H1919.1ZM1921.8 964H1928.6V976.2H1921.8ZM1968.4 899.45H1980.6V918.55H1968.4ZM1971.1 896.8H1977.9V921.2H1971.1ZM2018.4 780.75H2030.6V818.95H2018.4ZM2021.1 778.1H2027.9V821.6H2021.1ZM2095.3 569.25H2107.5V576.15H2095.3ZM2098 566.6H2104.8V578.8H2098ZM2119.9 564.55H2132.1V571.45H2119.9ZM2122.6 561.9H2129.4V574.1H2122.6ZM2119.9 926.95H2132.1V933.85H2119.9ZM2122.6 924.3H2129.4V936.5H2122.6ZM2119.9 944.35H2132.1V951.25H2119.9ZM2122.6 941.7H2129.4V953.9H2122.6ZM2119.9 547.35H2132.1V561.85H2119.9ZM2122.6 544.7H2129.4V564.5H2122.6ZM2119.9 577.05H2132.1V670.15H2119.9ZM2122.6 574.4H2129.4V672.8H2122.6ZM2119.9 822.95H2132.1V886.05H2119.9ZM2122.6 820.3H2129.4V888.7H2122.6ZM2119.9 891.55H2132.1V914.95H2119.9ZM2122.6 888.9H2129.4V917.6H2122.6ZM2119.9 960.15H2132.1V995.55H2119.9ZM2122.6 957.5H2129.4V998.2H2122.6Z"/>
</g>
<g id="axes">
<path d="M129.9 112 V1123.9 H2159.4" class="ax"/>
<line x1="189.2" y1="1124" x2="189.2" y2="1132.6" class="t"/>
<line x1="291" y1="1124" x2="291" y2="1132.6" class="t"/>
<line x1="390.5" y1="1124" x2="390.5" y2="1132.6" class="t"/>
<line x1="491.9" y1="1124" x2="491.9" y2="1132.6" class="t"/>
<line x1="591.5" y1="1124" x2="591.5" y2="1132.6" class="t"/>
<line x1="693.2" y1="1124" x2="693.2" y2="1132.6" class="t"/>
<line x1="792.7" y1="1124" x2="792.7" y2="1132.6" class="t"/>
<line x1="894.5" y1="1124" x2="894.5" y2="1132.6" class="t"/>
<line x1="993.7" y1="1124" x2="993.7" y2="1132.6" class="t"/>
<line x1="1095.4" y1="1124" x2="1095.4" y2="1132.6" class="t"/>
<line x1="1195" y1="1124" x2="1195" y2="1132.6" class="t"/>
<line x1="1296.6" y1="1124" x2="1296.6" y2="1132.6" class="t"/>
<line x1="1396.4" y1="1124" x2="1396.4" y2="1132.6" class="t"/>
<line x1="1497.9" y1="1124" x2="1497.9" y2="1132.6" class="t"/>
<line x1="1597.2" y1="1124" x2="1597.2" y2="1132.6" class="t"/>
<line x1="1698.9" y1="1124" x2="1698.9" y2="1132.6" class="t"/>
<line x1="1798.3" y1="1124" x2="1798.3" y2="1132.6" class="t"/>
<line x1="1900.2" y1="1124" x2="1900.2" y2="1132.6" class="t"/>
<line x1="1999.5" y1="1124" x2="1999.5" y2="1132.6" class="t"/>
<line x1="2101.3" y1="1124" x2="2101.3" y2="1132.6" class="t"/>
<line x1="118.6" y1="351.8" x2="130" y2="351.8" class="t"/>
<line x1="118.6" y1="597.7" x2="130" y2="597.7" class="t"/>
<line x1="118.6" y1="843.5" x2="130" y2="843.5" class="t"/>
<line x1="118.6" y1="1089.2" x2="130" y2="1089.2" class="t"/>
</g>
<text x="195.6" y="1175" class="xl">A</text>
<text x="295.3" y="1175" class="xl">R</text>
<text x="384.6" y="1175" class="xl">N</text>
<text x="494.5" y="1175" class="xl">D</text>
<text x="594.9" y="1175" class="xl">C</text>
<text x="696.2" y="1175" class="xl">Q</text>
<text x="795.6" y="1175" class="xl">E</text>
<text x="896.2" y="1175" class="xl">G</text>
<text x="996.7" y="1175" class="xl">H</text>
<text x="1088.5" y="1175" class="xl">I</text>
<text x="1188.9" y="1175" class="xl">L</text>
<text x="1296.6" y="1175" class="xl">K</text>
<text x="1398.5" y="1175" class="xl">M</text>
<text x="1498.7" y="1175" class="xl">F</text>
<text x="1605.7" y="1175" class="xl">P</text>
<text x="1692.6" y="1175" class="xl">S</text>
<text x="1791.7" y="1175" class="xl">T</text>
<text x="1904.5" y="1175" class="xl">W</text>
<text x="1996.6" y="1175" class="xl">Y</text>
<text x="2104.7" y="1175" class="xl">V</text>
<text transform="translate(111.4 359.9) scale(0.969 1)" class="yl">0.15</text>
<text transform="translate(116.5 608.9) scale(0.952 1)" class="yl">0.10</text>
<text transform="translate(116.8 857.7) scale(0.957 1)" class="yl">0.05</text>
<text transform="translate(116.7 1098.8) scale(0.957 1)" class="yl">0.00</text>
<text x="980" y="1237.3" class="ttl">Amino acids</text>
<text transform="translate(35.3 853.6) rotate(-90)" class="ttl">Amino acid compositions</text>
<text transform="translate(712.55 784.85) scale(0.886 1)" class="ast">*</text>
<text transform="translate(921.5 570.6) scale(0.886 1)" class="ast">*</text>
<text transform="translate(1925.75 959.55) scale(0.886 1)" class="ast">*</text>
</svg>
</body></html>
